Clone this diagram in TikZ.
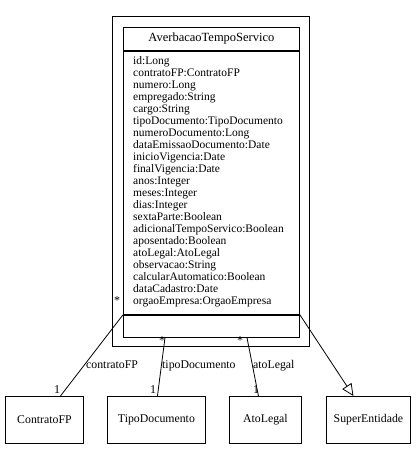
\documentclass[tikz,border=0pt]{standalone}
\usepackage{fontspec}
\setmainfont{Liberation Serif}
\usepackage{tikz}
\usetikzlibrary{calc}
\usetikzlibrary{positioning}
\usetikzlibrary{arrows.meta}
\tikzset{
umlbox/.style={draw,black,line width=0.9pt,inner sep=0pt,anchor=north west},
refbox/.style={umlbox,minimum width=78,minimum height=47},
mult/.style={inner sep=0pt,font=\fontsize{12}{12}\selectfont},
rolename/.style={inner sep=0pt,anchor=base west,font=\fontsize{11.8}{12}\selectfont},
assoc/.style={black,line width=0.8pt},
inherit/.style={assoc,-{Triangle[open,length=12pt,width=11pt]}}
}

\begin{document}
\begin{tikzpicture}[x=1pt,y=-1pt,font=\fontsize{11.8}{12}\selectfont]
    \useasboundingbox (0,0) rectangle (418,451);
    %
    % package frame and class
    \node[umlbox,line width=1.2pt,minimum width=197,minimum height=330](frame) at (112,16) {};
    \node[umlbox,minimum width=176,minimum height=23,font=\fontsize{12.5}{12}\selectfont](head) at (123,27) {AverbacaoTempoServico};
    \node[umlbox,minimum width=176,minimum height=263](attrs) at (head.south west) {};
    \node[umlbox,minimum width=176,minimum height=22](ops) at (attrs.south west) {};
    \node[inner sep=0pt,anchor=north west,align=left,font=\fontsize{11.5}{12}\selectfont](attrtext) at (133,56.5) {%
      id:Long\\
      contratoFP:ContratoFP\\
      numero:Long\\
      empregado:String\\
      cargo:String\\
      tipoDocumento:TipoDocumento\\
      numeroDocumento:Long\\
      dataEmissaoDocumento:Date\\
      inicioVigencia:Date\\
      finalVigencia:Date\\
      anos:Integer\\
      meses:Integer\\
      dias:Integer\\
      sextaParte:Boolean\\
      adicionalTempoServico:Boolean\\
      aposentado:Boolean\\
      atoLegal:AtoLegal\\
      observacao:String\\
      calcularAutomatico:Boolean\\
      dataCadastro:Date\\
      orgaoEmpresa:OrgaoEmpresa};
    %
    % referenced classes
    \node[refbox](contrato) at (5,396) {ContratoFP};
    \node[refbox,minimum width=98](tipo) at (107,396) {TipoDocumento};
    \node[refbox,minimum width=72](ato) at (229,396) {AtoLegal};
    \node[refbox,minimum width=84](superent) at (326,396) {SuperEntidade};
    %
    % associations
    \draw[assoc] (ops.north west) -- ($(contrato.north)+(16,0)$);
    \draw[assoc] ($(ops.south west)+(42,0)$) -- ($(tipo.north)+(1,0)$);
    \draw[assoc] ($(ops.south west)+(124,0)$) -- ($(ato.north)+(-7,0)$);
    \draw[inherit] (ops.north east) -- ($(superent.north)+(-15,0)$);
    %
    % role names and multiplicities
    \node[rolename](rcontrato) at (86,368) {contratoFP};
    \node[rolename](rtipo) at (162,368) {tipoDocumento};
    \node[rolename](rato) at (253,368) {atoLegal};
    \node[mult](m1a) at (117,301) {*};
    \node[mult](m1b) at (57,390) {1};
    \node[mult](m2a) at (162,341) {*};
    \node[mult](m2b) at (153,390) {1};
    \node[mult](m3a) at (240,341) {*};
    \node[mult](m3b) at (256,390) {1};
  \end{tikzpicture}
\end{document}
